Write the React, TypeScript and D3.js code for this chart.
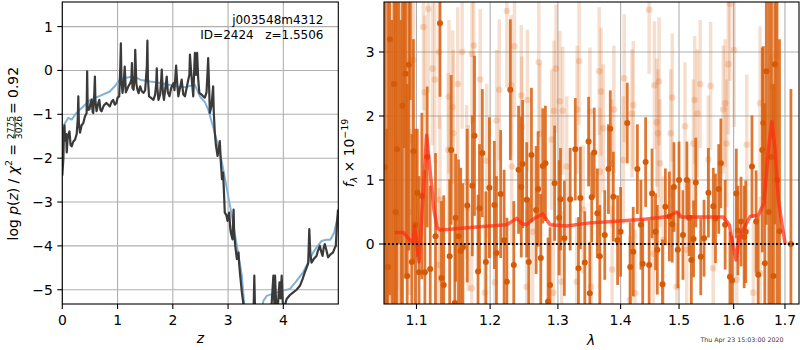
import React from "react";
import * as d3 from "d3";

// ---- redshift panel: log p(z) ----
const zBlack = [0.00, 0.02, 0.03, 0.04, 0.05, 0.07, 0.08, 0.10, 0.13, 0.15, 0.17, 0.20, 0.23, 0.26, 0.28, 0.29, 0.30, 0.32, 0.35, 0.38, 0.41, 0.44, 0.45, 0.46, 0.49, 0.51, 0.53, 0.55, 0.56, 0.58, 0.59, 0.60, 0.62, 0.65, 0.67, 0.69, 0.71, 0.75, 0.80, 0.83, 0.86, 0.89, 0.92, 0.95, 0.98, 1.00, 1.03, 1.05, 1.06, 1.07, 1.09, 1.11, 1.13, 1.15, 1.17, 1.20, 1.23, 1.25, 1.26, 1.27, 1.29, 1.31, 1.32, 1.34, 1.36, 1.38, 1.41, 1.44, 1.47, 1.50, 1.53, 1.54, 1.55, 1.57, 1.60, 1.65, 1.68, 1.70, 1.71, 1.72, 1.74, 1.77, 1.79, 1.80, 1.82, 1.84, 1.87, 1.89, 1.91, 1.94, 1.97, 2.01, 2.03, 2.06, 2.08, 2.10, 2.13, 2.16, 2.19, 2.22, 2.25, 2.28, 2.30, 2.31, 2.33, 2.35, 2.37, 2.39, 2.40, 2.42, 2.44, 2.46, 2.48, 2.52, 2.55, 2.58, 2.61, 2.63, 2.64, 2.66, 2.67, 2.70, 2.73, 2.74, 2.76, 2.78, 2.81, 2.83, 2.85, 2.87, 2.89, 2.91, 2.93, 2.94, 2.97, 2.99, 3.02, 3.04, 3.05, 3.08, 3.09, 3.10, 3.11, 3.13, 3.16, 3.19, 3.20, 3.22, 3.25, 3.28, 3.31, 3.36, 3.42, 3.46, 3.475, 3.49, 3.55, 3.62, 3.70, 3.76, 3.78, 3.82, 3.84, 3.85, 3.87, 3.90, 3.93, 3.95, 3.97, 3.99, 4.02, 4.06, 4.12, 4.18, 4.24, 4.30, 4.35, 4.39, 4.42, 4.45, 4.47, 4.49, 4.51, 4.55, 4.60, 4.63, 4.66, 4.69, 4.71, 4.73, 4.75, 4.78, 4.81, 4.85, 4.90, 4.93, 4.95, 4.97, 4.99];
const logpBlack = [-2.40, -2.0, -1.35, -1.25, -1.6, -1.45, -1.87, -1.5, -1.39, -1.7, -1.73, -1.62, -1.58, -1.45, -1.1, -0.59, -1.2, -1.42, -1.25, -1.20, -1.05, -0.97, -0.02, -0.9, -0.89, -0.75, -0.67, -0.95, -0.97, -0.5, -0.14, -0.7, -0.93, -0.75, -0.67, -0.9, -0.93, -0.8, -0.74, -0.78, -0.82, -0.72, -0.67, -0.78, -0.74, -0.62, -0.59, 0.1, 0.62, -0.2, -0.51, -0.3, 0.09, -0.5, -0.44, -0.35, -0.29, -0.2, 0.17, -0.4, -0.44, -0.1, 0.47, -0.3, -0.44, -0.52, -0.36, -0.48, -0.51, -0.45, 0.1, 0.68, -0.2, -0.59, -0.62, -0.67, -0.55, -0.3, 0.05, -0.4, -0.67, -0.55, -0.2, 0.02, -0.5, -0.67, -0.35, -0.14, -0.5, -0.59, -0.4, -0.29, -0.45, 0.11, -0.3, -0.59, -0.4, -0.21, -0.55, -0.59, -0.4, -0.21, -0.1, 0.36, 0.0, -0.3, -0.59, 0.1, 0.40, -0.1, 0.40, -0.2, -0.51, -0.55, -0.59, -0.62, -0.5, 0.0, 0.28, -0.5, -0.97, -0.8, -0.36, -0.9, -1.42, -1.7, -1.95, -1.8, -1.61, -2.1, -2.48, -2.33, -2.9, -3.24, -3.3, -3.43, -3.24, -3.6, -3.70, -3.85, -3.5, -3.17, -3.7, -4.0, -4.30, -4.15, -4.4, -4.68, -5.06, -5.35, -5.7, -5.9, -5.7, -5.6, -4.68, -5.6, -5.9, -5.8, -5.6, -5.4, -5.5, -4.68, -5.4, -4.68, -5.3, -5.4, -4.83, -5.2, -4.68, -5.3, -5.4, -5.21, -5.12, -5.06, -5.0, -4.91, -4.75, -4.60, -4.5, -4.4, -3.62, -4.2, -4.38, -4.3, -4.23, -4.1, -4.0, -4.15, -4.23, -4.05, -3.96, -4.1, -4.26, -4.2, -4.15, -4.05, -4.0, -3.5, -3.17];

const zBlue = [0.00, 0.02, 0.05, 0.11, 0.17, 0.23, 0.32, 0.38, 0.50, 0.68, 0.86, 0.95, 1.04, 1.13, 1.23, 1.32, 1.41, 1.59, 1.80, 1.95, 2.10, 2.25, 2.31, 2.40, 2.49, 2.58, 2.64, 2.76, 2.89, 2.98, 3.07, 3.16, 3.25, 3.29, 3.34, 3.42, 3.50, 3.58, 3.64, 3.70, 3.88, 4.00, 4.12, 4.24, 4.36, 4.48, 4.54, 4.60, 4.69, 4.78, 4.85, 4.92, 4.99];
const logpBlue = [-1.45, -1.27, -1.20, -1.08, -1.12, -1.01, -0.89, -0.82, -0.67, -0.58, -0.48, -0.36, -0.21, -0.17, -0.15, -0.15, -0.21, -0.25, -0.29, -0.33, -0.37, -0.38, -0.35, -0.33, -0.59, -0.72, -0.89, -1.42, -2.10, -2.71, -3.32, -4.0, -4.68, -5.30, -5.6, -5.8, -5.9, -5.6, -5.25, -5.14, -5.06, -5.02, -4.98, -4.80, -4.60, -4.30, -4.15, -4.04, -3.89, -3.86, -3.86, -3.70, -3.30];

const zTicks = [0, 1, 2, 3, 4];
const logpTicks = [-5, -4, -3, -2, -1, 0, 1];

// ---- spectrum panel ----
// [wavelength (um), flux, error]
const darkPts: [number, number, number][] = [
  [1.0600, 1.2, 4.0], [1.0618, -2.0, 3.8], [1.0636, -0.36, 4.2], [1.0660, 3.2, 4.0], [1.0685, -1.5, 5.0],
  [1.0710, 2.5, 4.0], [1.0730, 0.5, 4.5], [1.0750, 1.48, 4.0], [1.0775, 4.5, 4.5], [1.0800, -1.0, 4.5],
  [1.0820, 2.16, 3.5], [1.0842, 5.0, 3.5], [1.0860, 2.66, 3.2], [1.0880, -0.5, 3.0], [1.0900, 2.80, 2.9],
  [1.0920, 4.5, 2.25], [1.0940, -0.28, 2.0], [1.0960, 1.45, 1.75], [1.0985, 0.3, 1.5], [1.1010, 0.8, 1.0],
  [1.1033, -0.44, 1.5], [1.1070, 0.75, 1.3], [1.1110, -0.44, 1.6], [1.1140, 1.36, 1.1], [1.1180, -0.39, 1.3],
  [1.1250, 0.12, 1.3], [1.1310, 3.45, 1.15], [1.1330, -0.53, 1.2], [1.1360, -0.64, 1.4], [1.1440, -0.19, 1.2],
  [1.1460, 1.47, 1.17], [1.1510, -0.92, 1.3], [1.1520, 0.41, 1.0], [1.1560, 0.12, 1.2], [1.1590, -0.11, 1.3],
  [1.1620, -0.05, 1.0], [1.1680, 0.6, 1.2], [1.1750, 0.91, 1.1], [1.1780, 1.69, 1.25], [1.1830, -0.43, 1.2],
  [1.1850, 0.56, 1.0], [1.1890, 1.42, 1.0], [1.1940, -0.28, 1.1], [1.1990, 0.88, 1.1], [1.2060, 0.61, 1.0],
  [1.2090, -0.14, 1.2], [1.2150, 0.78, 1.0], [1.2200, 0.06, 1.1], [1.2240, -0.59, 1.0], [1.2290, 2.41, 1.1],
  [1.2340, -0.33, 1.0], [1.2410, 1.16, 1.0], [1.2450, 0.89, 1.1], [1.2470, 1.25, 1.0], [1.2530, 0.69, 0.9],
  [1.2560, -0.28, 1.0], [1.2600, 1.39, 1.05], [1.2670, 0.53, 1.0], [1.2700, 0.86, 0.9], [1.2740, -0.22, 1.0],
  [1.2770, 1.22, 0.9], [1.2810, 1.26, 0.9], [1.2850, -0.90, 1.0], [1.2880, -0.64, 0.9], [1.2950, 0.95, 0.9],
  [1.3020, 0.41, 0.9], [1.3040, 0.70, 0.8], [1.3100, 0.09, 0.9], [1.3190, 0.70, 0.8], [1.3270, 1.48, 0.8],
  [1.3320, -0.38, 0.8], [1.3350, 0.72, 0.8], [1.3420, -0.29, 0.8], [1.3480, 1.60, 0.7], [1.3500, -0.77, 0.8],
  [1.3530, 0.73, 0.7], [1.3570, 1.43, 0.7], [1.3620, 0.48, 0.7], [1.3660, -0.19, 0.8], [1.3740, 0.14, 0.7],
  [1.3800, 1.17, 0.7], [1.3830, 1.80, 0.6], [1.3880, 0.74, 0.7], [1.3950, 0.06, 0.7], [1.4000, 0.19, 0.7],
  [1.4110, 1.89, 0.63], [1.4160, -0.36, 0.7], [1.4210, -0.12, 0.7], [1.4280, 1.17, 0.7], [1.4340, 0.30, 0.7],
  [1.4370, -0.31, 0.7], [1.4420, 1.28, 0.7], [1.4480, -0.33, 0.7], [1.4530, 0.79, 0.7], [1.4590, 0.19, 0.6],
  [1.4620, -0.09, 0.7], [1.4710, -0.63, 0.7], [1.4760, 0.58, 0.6], [1.4830, 0.43, 0.7], [1.4880, 0.31, 0.6],
  [1.4910, 0.89, 0.7], [1.4980, -0.09, 0.6], [1.5000, 1.0, 0.6], [1.5070, 0.14, 0.7], [1.5140, 1.0, 0.6],
  [1.5180, 0.41, 0.6], [1.5220, -0.25, 0.7], [1.5260, 0.08, 0.6], [1.5300, 0.96, 0.7], [1.5390, -0.20, 0.6],
  [1.5450, 0.09, 0.6], [1.5530, 0.80, 0.7], [1.5620, 0.59, 0.6], [1.5660, 0.40, 0.7], [1.5720, 0.86, 0.7],
  [1.5760, 1.26, 0.7], [1.5840, 0.30, 0.7], [1.5930, -0.51, 0.7], [1.5970, -0.57, 0.7], [1.6050, 0.79, 0.7],
  [1.6080, 0.21, 0.7], [1.6140, 0.35, 0.7], [1.6200, 0.11, 0.8], [1.6230, 0.19, 0.8], [1.6350, 1.21, 0.8],
  [1.6430, 0.35, 0.8], [1.6470, -0.48, 0.9], [1.6550, 1.47, 1.6], [1.6570, 1.89, 1.2], [1.6600, -0.3, 2.5],
  [1.6630, 2.70, 2.4], [1.6680, 0.5, 3.5], [1.6730, 1.36, 2.5], [1.6770, -0.5, 3.0], [1.6800, 2.81, 2.5],
  [1.6840, 1.0, 3.5], [1.6890, 0.2, 3.0], [1.7120, 0.0, 2.42],
];

const lightPts: [number, number, number][] = [
  [1.0746, 0.48, 1.2], [1.0916, 0.50, 1.3], [1.0925, 2.875, 1.3], [1.0960, 2.875, 1.2], [1.1090, 3.39, 1.3],
  [1.1110, 2.37, 1.2], [1.1154, 3.67, 1.3], [1.1210, 2.74, 1.2], [1.1240, 2.57, 1.3], [1.1295, -0.33, 1.2],
  [1.1300, 3.0, 1.2], [1.1310, 0.69, 1.3], [1.1421, 1.47, 1.2], [1.1430, 2.30, 1.2], [1.1480, 2.14, 1.2],
  [1.1489, 1.73, 1.3], [1.1550, 2.5, 1.2], [1.1610, 3.0, 1.2], [1.1672, 0.97, 1.2], [1.1694, 0.56, 1.3],
  [1.1741, -0.69, 1.2], [1.1745, 2.97, 1.1], [1.1770, 3.10, 1.2], [1.1860, 2.57, 1.1], [1.1927, -0.76, 1.2],
  [1.1951, 1.30, 1.2], [1.2068, -0.60, 1.2], [1.2093, 1.93, 1.1], [1.2130, 2.41, 1.1], [1.2240, 3.64, 1.2],
  [1.2300, 2.48, 1.1], [1.2310, 1.21, 1.2], [1.2350, 3.09, 1.1], [1.2450, 2.32, 1.1], [1.2456, 1.83, 1.1],
  [1.2529, -0.67, 1.2], [1.2540, 2.25, 1.1], [1.2618, 0.19, 1.2], [1.2710, 2.84, 1.1], [1.2728, 1.72, 1.1],
  [1.2905, 1.63, 1.1], [1.2930, -0.76, 1.1], [1.2940, 2.08, 1.1], [1.2970, 2.74, 1.0], [1.3030, 2.23, 1.1],
  [1.3058, -0.59, 1.1], [1.3074, 2.08, 1.0], [1.3135, 1.21, 1.1], [1.3292, -0.59, 1.0], [1.3300, 2.10, 1.0],
  [1.3330, 2.86, 1.0], [1.3395, 0.54, 1.0], [1.3502, 2.07, 1.0], [1.3520, -0.67, 1.0], [1.3650, 2.70, 1.0],
  [1.3662, 1.13, 1.0], [1.3680, 2.38, 1.0], [1.3716, 1.81, 1.0], [1.3853, 1.26, 1.0], [1.3860, -0.40, 1.0],
  [1.3890, 2.10, 1.0], [1.4044, 1.31, 1.0], [1.4060, 2.59, 1.0], [1.4155, -0.87, 1.0], [1.4190, 2.04, 1.0],
  [1.4211, 2.17, 1.0], [1.4239, -0.77, 1.0], [1.4480, 3.66, 1.0], [1.4550, -0.15, 1.0], [1.4570, 2.48, 1.0],
  [1.4610, 1.90, 1.0], [1.4630, 1.73, 1.0], [1.4650, 2.54, 1.0], [1.4667, 1.26, 1.0], [1.4724, 0.06, 1.0],
  [1.4853, 1.73, 1.0], [1.4880, 2.29, 1.0], [1.4959, -0.67, 1.0], [1.5106, 1.84, 1.0], [1.5137, -0.09, 1.0],
  [1.5256, 1.57, 1.0], [1.5280, 2.25, 1.0], [1.5328, 2.04, 1.0], [1.5380, 2.50, 1.0], [1.5529, 1.32, 1.0],
  [1.5570, 2.47, 1.0], [1.5618, -0.38, 1.0], [1.5805, 2.10, 1.0], [1.5840, 2.20, 1.0], [1.5869, 1.57, 1.0],
  [1.5900, 2.81, 1.1], [1.5930, 3.75, 1.2], [1.6010, 3.03, 1.2], [1.6058, -0.56, 1.1], [1.6249, 1.55, 1.1],
  [1.6376, -0.76, 1.1], [1.6506, 2.20, 1.2], [1.6510, -0.46, 1.2], [1.6737, 1.47, 1.5], [1.6750, 2.45, 1.5],
  [1.6830, 2.94, 1.5],
];

const modelWave = [1.0724, 1.0830, 1.0894, 1.0958, 1.0974, 1.1033, 1.1133, 1.1177, 1.1230, 1.1274, 1.1310, 1.1857, 1.2237, 1.2383, 1.2456, 1.2529, 1.2628, 1.2769, 1.2880, 1.3136, 1.3502, 1.3879, 1.4437, 1.4811, 1.4959, 1.5047, 1.5316, 1.5805, 1.5918, 1.5981, 1.6044, 1.6107, 1.6184, 1.6313, 1.6474, 1.6585, 1.6670, 1.6737, 1.6803, 1.6869, 1.6937, 1.7003];
const modelFlux = [0.18, 0.18, 0.09, 0.01, 0.28, -0.28, 1.70, 1.16, 0.53, 0.25, 0.22, 0.27, 0.30, 0.40, 0.32, 0.30, 0.39, 0.47, 0.30, 0.28, 0.33, 0.35, 0.39, 0.43, 0.50, 0.42, 0.42, 0.42, 0.30, 0.01, -0.25, 0.11, 0.23, 0.43, 0.45, 0.64, 1.47, 1.91, 1.47, 0.69, 0.32, 0.01];

const waveTicks = [1.1, 1.2, 1.3, 1.4, 1.5, 1.6, 1.7];
const fluxTicks = [0, 1, 2, 3];

const FONT = "DejaVu Sans, sans-serif";
const GRID = "#b0b0b0";
const ORANGE = "#d9600f";

const fmt = (v: number) => (v < 0 ? "\u2212" + Math.abs(v) : String(v));

export default function App() {
  // left axes
  const L = { x0: 62.3, x1: 338.3, y0: 2, y1: 304 };
  const xz = d3.scaleLinear().domain([0, 4.995]).range([L.x0, L.x1]);
  const yz = d3.scaleLinear().domain([1.561, -5.325]).range([L.y0, L.y1]);

  // right axes
  const R = { x0: 384, x1: 799, y0: 2, y1: 304 };
  const xw = d3.scaleLog().domain([1.0586, 1.7284]).range([R.x0, R.x1]);
  const yf = d3.scaleLinear().domain([3.781, -0.9375]).range([R.y0, R.y1]);

  const blackLine = d3.line<number>().x((d, i) => xz(zBlack[i])).y((d) => yz(d))(logpBlack);
  const blueLine = d3.line<number>().x((d, i) => xz(zBlue[i])).y((d) => yz(d))(logpBlue);
  const modelLine = d3.line<number>().x((d, i) => xw(modelWave[i])).y((d) => yf(d))(modelFlux);

  return (
    <svg width={800} height={350} style={{ position: "absolute", left: 0, top: 0, background: "#fff" }} fontFamily={FONT}>
      <defs>
        <clipPath id="clipL"><rect x={L.x0} y={L.y0} width={L.x1 - L.x0} height={L.y1 - L.y0} /></clipPath>
        <clipPath id="clipR"><rect x={R.x0} y={R.y0} width={R.x1 - R.x0} height={R.y1 - R.y0} /></clipPath>
      </defs>

      {/* ---------- left panel ---------- */}
      <g>
        {zTicks.map((t) => (
          <line key={"gx" + t} x1={xz(t)} x2={xz(t)} y1={L.y0} y2={L.y1} stroke={GRID} strokeWidth={1.1} />
        ))}
        {logpTicks.map((t) => (
          <line key={"gy" + t} x1={L.x0} x2={L.x1} y1={yz(t)} y2={yz(t)} stroke={GRID} strokeWidth={1.1} />
        ))}
        <g clipPath="url(#clipL)">
          <path d={blueLine || ""} fill="none" stroke="#7fb1d9" strokeWidth={2} strokeLinejoin="round" />
          <path d={blackLine || ""} fill="none" stroke="#3a3a3a" strokeWidth={2.2} strokeLinejoin="round" />
        </g>
        <rect x={L.x0} y={L.y0} width={L.x1 - L.x0} height={L.y1 - L.y0} fill="none" stroke="#000" strokeWidth={1.1} />
        {zTicks.map((t) => (
          <g key={"tx" + t}>
            <line x1={xz(t)} x2={xz(t)} y1={L.y1} y2={L.y1 + 5} stroke="#000" strokeWidth={1.1} />
            <text x={xz(t)} y={L.y1 + 20.5} fontSize={13.9} textAnchor="middle">{fmt(t)}</text>
          </g>
        ))}
        {logpTicks.map((t) => (
          <g key={"ty" + t}>
            <line x1={L.x0 - 5} x2={L.x0} y1={yz(t)} y2={yz(t)} stroke="#000" strokeWidth={1.1} />
            <text x={L.x0 - 9.5} y={yz(t) + 5} fontSize={13.9} textAnchor="end">{fmt(t)}</text>
          </g>
        ))}
        <text x={xz(2.5)} y={343} fontSize={13.9} textAnchor="middle" fontStyle="italic">z</text>
        <text x={323.5} y={24} fontSize={12} textAnchor="end">j003548m4312</text>
        <text x={323.5} y={38.5} fontSize={12} textAnchor="end" style={{ whiteSpace: "pre" }}>{"ID=2424   z=1.5506"}</text>

        {/* y label with fraction */}
        <g transform="translate(17.5,175) rotate(-90)" fontSize={13.9}>
          <text x={31} y={0} textAnchor="end">
            log <tspan fontStyle="italic">p</tspan>(<tspan fontStyle="italic">z</tspan>) / <tspan fontStyle="italic">χ</tspan>
            <tspan fontSize={9.5} dy={-5.5}>2</tspan>
            <tspan dy={5.5}> =</tspan>
          </text>
          <text x={47.5} y={-4} fontSize={9.2} textAnchor="middle">2775</text>
          <line x1={36.5} x2={58.5} y1={-2.6} y2={-2.6} stroke="#000" strokeWidth={0.7} />
          <text x={47.5} y={4.6} fontSize={9.2} textAnchor="middle">3026</text>
          <text x={61} y={0} textAnchor="start">= 0.92</text>
        </g>
      </g>

      {/* ---------- right panel ---------- */}
      <g>
        {waveTicks.map((t) => (
          <line key={"rgx" + t} x1={xw(t)} x2={xw(t)} y1={R.y0} y2={R.y1} stroke={GRID} strokeWidth={1.1} />
        ))}
        {fluxTicks.map((t) => (
          <line key={"rgy" + t} x1={R.x0} x2={R.x1} y1={yf(t)} y2={yf(t)} stroke={GRID} strokeWidth={1.1} />
        ))}
        <g clipPath="url(#clipR)">
          {lightPts.map((p, i) => (
            <line key={"lb" + i} x1={xw(p[0])} x2={xw(p[0])} y1={yf(p[1] + p[2])} y2={yf(p[1] - p[2])}
              stroke={ORANGE} strokeOpacity={0.2} strokeWidth={3.5} />
          ))}
          {lightPts.map((p, i) => (
            <circle key={"lp" + i} cx={xw(p[0])} cy={yf(p[1])} r={3.3} fill={ORANGE} fillOpacity={0.22} />
          ))}
          {darkPts.map((p, i) => (
            <line key={"db" + i} x1={xw(p[0])} x2={xw(p[0])} y1={yf(p[1] + p[2])} y2={yf(p[1] - p[2])}
              stroke={ORANGE} strokeOpacity={0.85} strokeWidth={2.8} />
          ))}
          {darkPts.map((p, i) => (
            <circle key={"dp" + i} cx={xw(p[0])} cy={yf(p[1])} r={3} fill="#d45a08" />
          ))}
          <path d={modelLine || ""} fill="none" stroke="#ff2a10" strokeOpacity={0.7} strokeWidth={3.5} strokeLinejoin="round" />
          <line x1={R.x0} x2={R.x1} y1={yf(0)} y2={yf(0)} stroke="#000" strokeWidth={1.8} strokeDasharray="1.8,2.2" />
        </g>
        <rect x={R.x0} y={R.y0} width={R.x1 - R.x0} height={R.y1 - R.y0} fill="none" stroke="#000" strokeWidth={1.1} />
        {waveTicks.map((t) => (
          <g key={"rtx" + t}>
            <line x1={xw(t)} x2={xw(t)} y1={R.y1} y2={R.y1 + 5} stroke="#000" strokeWidth={1.1} />
            <text x={xw(t)} y={R.y1 + 20.5} fontSize={13.9} textAnchor="middle">{t.toFixed(1)}</text>
          </g>
        ))}
        {fluxTicks.map((t) => (
          <g key={"rty" + t}>
            <line x1={R.x0 - 5} x2={R.x0} y1={yf(t)} y2={yf(t)} stroke="#000" strokeWidth={1.1} />
            <text x={R.x0 - 9.5} y={yf(t) + 5} fontSize={13.9} textAnchor="end">{fmt(t)}</text>
          </g>
        ))}
        <text x={591} y={345} fontSize={13.9} textAnchor="middle" fontStyle="italic">λ</text>
        <text transform="translate(354,153) rotate(-90)" fontSize={13.9} textAnchor="middle">
          <tspan fontStyle="italic">f</tspan>
          <tspan fontSize={9.5} dy={3} fontStyle="italic">λ</tspan>
          <tspan dy={-3}> × 10</tspan>
          <tspan fontSize={9.5} dy={-6}>−19</tspan>
        </text>
        <text x={742} y={342} fontSize={6.3} textAnchor="middle" fill="#333">Thu Apr 23 15:03:00 2020</text>
      </g>
    </svg>
  );
}
